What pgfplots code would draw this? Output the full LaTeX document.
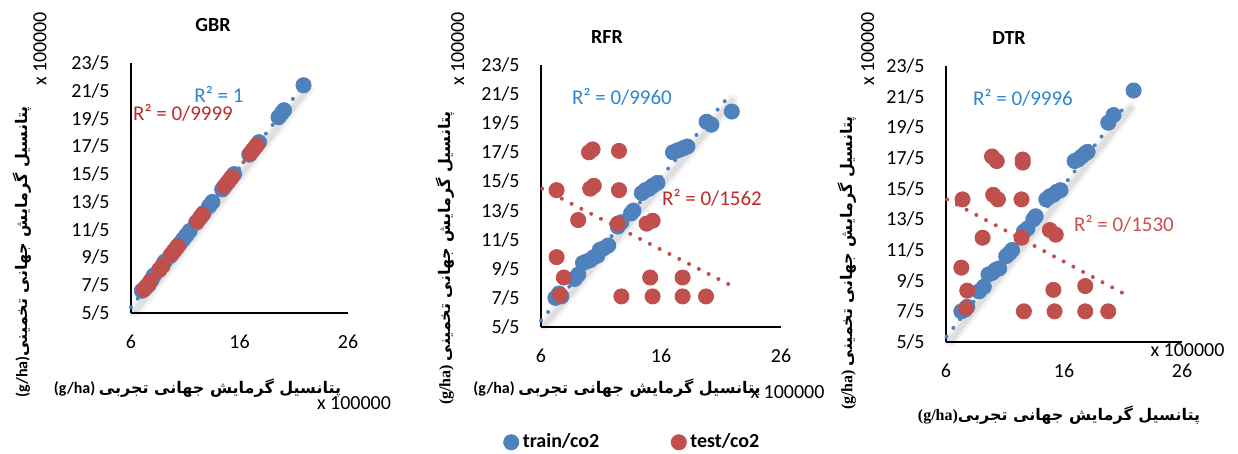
\documentclass[border=0pt]{standalone}
\usepackage{fontspec}
\setmainfont{Carlito}
\newfontfamily\fa[Script=Arabic]{DejaVu Sans}
\newfontfamily\tnr{Liberation Serif}
\usepackage{pgfplots}
\pgfplotsset{compat=1.18}
\TeXXeTstate=1

\definecolor{sblue}{HTML}{4F81BD}
\definecolor{sred}{HTML}{C0504D}
\definecolor{tblue}{HTML}{2E86D0}
\definecolor{tred}{HTML}{BE2A2A}
\definecolor{tred2}{HTML}{C8504D}

\pgfplotsset{
  panel/.style={
    scale only axis,
    xmin=6, xmax=26, ymin=5.5, ymax=23.5,
    axis x line=bottom, axis y line=left,
    axis line style={-, black, line width=0.9pt},
    xtick={6,16,26},
    ytick={5.5,7.5,...,23.5},
    yticklabels={5/5,7/5,9/5,11/5,13/5,15/5,17/5,19/5,21/5,23/5},
    major tick length=0pt,
    tick label style={font=\fontsize{10}{12}\selectfont, inner sep=0pt},
    yticklabel style={xshift=-10.5pt},
    xticklabel style={yshift=-11pt},
    /pgf/number format/assume math mode=true,
    clip=false,
  },
  trainpt/.style={only marks, mark=*, mark size=3.8pt, mark options={fill=sblue, draw=sblue}},
  testpt/.style={only marks, mark=*, mark size=3.8pt, mark options={fill=sred, draw=sred}},
  trend/.style={line width=2pt, line cap=round, dash pattern=on 0pt off 5.5pt, #1},
  shadowa/.style={black, line width=6pt, opacity=0.05, shift={(2pt,-2pt)}, line cap=round},
  shadowb/.style={black, line width=3pt, opacity=0.08, shift={(2pt,-2pt)}, line cap=round},
}

\newcommand{\xlab}{\fa\bfseries\beginR پتانسیل گرمایش جهانی تجربی\endR}
\newcommand{\ylab}{\fa\bfseries\beginR پتانسیل گرمایش جهانی تخمینی\endR}

\begin{document}
\begin{tikzpicture}
\path[use as bounding box] (0,0) rectangle (619pt,227pt);

% ---------- GBR ----------
\begin{axis}[panel, at={(65.5pt,70.5pt)}, anchor=south west, width=108.5pt, height=125pt]
\addplot[shadowa, forget plot] coordinates {(6,5.9) (21.9,21.9)};
\addplot[shadowb, forget plot] coordinates {(6,5.9) (21.9,21.9)};
\addplot[trainpt] coordinates {
  (7.0,7.1) (7.3,7.3) (7.6,7.5) (7.9,7.9) (8.1,8.2)
  (8.6,8.6) (8.9,8.9) (9.1,9.2)
  (9.6,9.6) (9.9,9.9) (10.2,10.2) (10.5,10.5)
  (10.8,10.8) (11.1,11.1) (11.4,11.4)
  (12.0,12.0) (12.4,12.4) (12.7,12.7)
  (13.2,13.2) (13.5,13.5)
  (14.4,14.4) (14.8,14.8) (15.2,15.2) (15.5,15.5)
  (16.9,16.9) (17.2,17.2) (17.5,17.5) (17.8,17.8)
  (19.6,19.6) (19.9,19.9) (20.1,20.1)
  (21.9,21.9)
};
\addplot[testpt] coordinates {
  (7.2,7.2) (7.5,7.5) (7.8,7.8)
  (8.6,8.6) (8.9,8.9)
  (9.7,9.7) (10.0,10.0) (10.3,10.3)
  (12.1,12.1) (12.4,12.4) (12.6,12.6)
  (14.6,14.6) (15.0,15.0) (15.3,15.3)
  (17.0,17.0) (17.3,17.3) (17.6,17.6)
};
\addplot[trend=sblue, forget plot] coordinates {(6,5.9) (21.9,21.9)};
\addplot[trend=sred, forget plot] coordinates {(7,7) (17.8,17.8)};
\end{axis}

% ---------- RFR ----------
\begin{axis}[panel, at={(270.5pt,63.5pt)}, anchor=south west, width=120pt, height=131pt,
  legend style={at={(0.385,-0.44)}, anchor=center, draw=none, fill=none,
    legend columns=2, font=\bfseries\fontsize{10}{12}\selectfont,
    /tikz/every even column/.append style={column sep=34pt}},
  legend image code/.code={\draw[#1] plot coordinates {(0pt,0pt)};},
]
\addplot[shadowa, forget plot] coordinates {(6,5.95) (21.6,21.3)};
\addplot[shadowb, forget plot] coordinates {(6,5.95) (21.6,21.3)};
\addplot[trainpt] coordinates {
  (7.2,7.5) (7.5,7.8) (7.7,7.6)
  (8.8,8.8) (9.1,9.1)
  (9.5,9.9) (9.8,10.0) (10.1,10.1) (10.4,10.3) (10.7,10.4)
  (10.9,10.8) (11.2,10.9) (11.6,11.1)
  (12.4,12.4) (12.7,12.7)
  (13.5,13.3) (13.7,13.5)
  (14.4,14.7) (14.7,14.9) (15.0,15.0) (15.3,15.2) (15.7,15.4)
  (17.0,17.5) (17.3,17.6) (17.6,17.7) (17.9,17.8) (18.2,17.9)
  (19.8,19.6) (20.2,19.4)
  (21.9,20.3)
};
\addlegendentry{train/co2}
\addplot[testpt] coordinates {
  (10.0,17.5) (10.3,17.7) (12.5,17.6)
  (7.3,14.9) (10.1,15.0) (10.4,15.2) (12.5,14.9)
  (9.1,12.85) (12.4,12.6) (14.8,12.6) (15.3,12.8)
  (7.3,10.3)
  (7.9,8.9) (15.1,8.9) (17.8,8.9)
  (7.6,7.7) (12.7,7.6) (15.3,7.6) (17.8,7.6) (19.75,7.6)
};
\addlegendentry{test/co2}
\addplot[trend=sblue, forget plot] coordinates {(6,5.95) (21.6,21.3)};
\addplot[trend=sred, forget plot] coordinates {(6.1,15.0) (21.6,8.45)};
\end{axis}

% ---------- DTR ----------
\begin{axis}[panel, at={(473pt,56pt)}, anchor=south west, width=118pt, height=138pt]
\addplot[shadowa, forget plot] coordinates {(6.05,5.85) (21.3,21.0)};
\addplot[shadowb, forget plot] coordinates {(6.05,5.85) (21.3,21.0)};
\addplot[trainpt] coordinates {
  (7.3,7.5) (7.6,7.6) (7.8,7.8)
  (8.8,8.8) (9.2,9.1)
  (9.6,9.9) (9.9,10.0) (10.2,10.2) (10.5,10.3)
  (11.1,11.1) (11.4,11.3) (11.6,11.5)
  (12.6,12.7) (12.9,12.9)
  (13.4,13.5) (13.6,13.7)
  (14.5,14.8) (14.8,15.0) (15.1,15.1) (15.4,15.3) (15.7,15.4)
  (16.9,17.3) (17.2,17.4) (17.5,17.6) (17.8,17.8) (18.0,17.9)
  (19.75,19.8) (20.2,20.3)
  (21.9,21.9)
};
\addplot[testpt] coordinates {
  (9.9,17.6) (10.3,17.3) (12.5,17.4) (12.5,17.2)
  (7.4,14.8) (10.0,15.1) (10.4,14.8) (12.4,14.8)
  (9.1,12.3) (12.4,12.3) (14.8,12.8) (15.3,12.5)
  (7.3,10.35)
  (7.8,8.85) (15.1,8.9) (17.8,9.15)
  (7.7,7.7) (12.6,7.5) (15.2,7.5) (17.8,7.5) (19.75,7.5)
};
\addplot[trend=sblue, forget plot] coordinates {(6.05,5.85) (21.3,21.0)};
\addplot[trend=sred, forget plot] coordinates {(6.1,14.8) (21.7,8.4)};
\end{axis}

% ---------- titles ----------
\node[font=\bfseries\fontsize{10}{12}\selectfont] at (106.5pt,214.5pt) {GBR};
\node[font=\bfseries\fontsize{10}{12}\selectfont] at (303.5pt,208.5pt) {RFR};
\node[font=\bfseries\fontsize{10}{12}\selectfont] at (504.5pt,208pt) {DTR};

% ---------- R^2 labels ----------
\begin{scope}[every node/.style={font=\fontsize{10.5}{12}\selectfont, inner sep=0pt}]
\node[text=tblue] at (109.5pt,180pt) {R² = 1};
\node[text=tred] at (91.5pt,170.5pt) {R² = 0/9999};
\node[text=tblue] at (311pt,178.5pt) {R² = 0/9960};
\node[text=tred] at (356pt,128pt) {R² = 0/1562};
\node[text=tblue] at (511.5pt,178pt) {R² = 0/9996};
\node[text=tred2] at (562pt,115pt) {R² = 0/1530};
\end{scope}

% ---------- display units ----------
\begin{scope}[every node/.style={font=\fontsize{10}{12}\selectfont, inner sep=0pt}]
\node[rotate=90] at (20pt,202.5pt) {x 100000};
\node at (177pt,25.5pt) {x 100000};
\node[rotate=90] at (228.8pt,202.5pt) {x 100000};
\node at (393.75pt,31pt) {x 100000};
\node[rotate=90] at (433.8pt,202.5pt) {x 100000};
\node at (593.75pt,52pt) {x 100000};
\end{scope}

% ---------- axis titles ----------
\begin{scope}[every node/.style={font=\fontsize{8}{10}\selectfont, inner sep=0pt}]
\node[rotate=90] at (11pt,101pt) {\textbf{(g/ha)}\ylab};
\node at (98.75pt,33pt) {\textbf{(g/ha)} \xlab};
\node[rotate=90] at (222.5pt,98pt) {{\tnr\bfseries (g/ha)} \ylab};
\node at (308.5pt,33pt) {\textbf{(g/ha)} \xlab};
\node[rotate=90] at (423.5pt,95.5pt) {{\tnr\bfseries (g/ha)} \ylab};
\node at (529.5pt,19.5pt) {{\tnr\bfseries (g/ha)}\xlab};
\end{scope}
\end{tikzpicture}
\end{document}
